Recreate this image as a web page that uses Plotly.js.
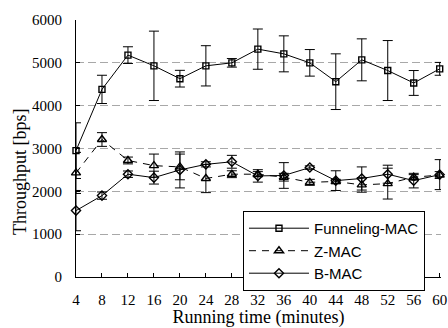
<!DOCTYPE html>
<html>
<head>
<meta charset="utf-8">
<script src="https://cdn.plot.ly/plotly-3.0.1.min.js"></script>
<style>html,body{margin:0;padding:0;background:#fff;}#chart{width:448px;height:328px;}</style>
</head>
<body>
<div id="chart"></div>
<script>
const minutes = [4, 8, 12, 16, 20, 24, 28, 32, 36, 40, 44, 48, 52, 56, 60];
const funnelingMAC = [2950, 4380, 5180, 4930, 4630, 4930, 5000, 5320, 5210, 5000, 4560, 5070, 4820, 4530, 4860];
const funnelingErr = [650, 330, 195, 810, 195, 470, 100, 470, 420, 310, 650, 490, 700, 290, 150];
const zMAC = [2430, 3210, 2720, 2600, 2570, 2300, 2400, 2400, 2330, 2210, 2230, 2150, 2180, 2330, 2380];
const zMACErr = [480, 160, 80, 270, 300, 330, 80, 60, 90, 70, 50, 170, 360, 60, 80];
const bMAC = [1550, 1900, 2400, 2320, 2500, 2630, 2690, 2360, 2370, 2555, 2250, 2300, 2400, 2250, 2390];
const bMACErr = [470, 85, 75, 150, 420, 60, 150, 145, 300, 40, 230, 270, 210, 170, 350];
const xTicks = [4, 8, 12, 16, 20, 24, 28, 32, 36, 40, 44, 48, 52, 56, 60];

function errObj(arr) {
  return {type: 'data', array: arr, visible: true, color: '#000', thickness: 1, width: 5};
}

const traces = [
  {x: minutes, y: funnelingMAC, name: 'Funneling-MAC', type: 'scatter', mode: 'lines+markers',
   line: {color: '#000', width: 1}, marker: {symbol: 'square-open', size: 6, color: '#000', line: {width: 1.4}},
   error_y: errObj(funnelingErr), cliponaxis: false},
  {x: minutes, y: zMAC, name: 'Z-MAC', type: 'scatter', mode: 'lines+markers',
   line: {color: '#000', width: 1, dash: '7px,6px'}, marker: {symbol: 'triangle-up-open', size: 8, color: '#000', line: {width: 1.4}},
   error_y: errObj(zMACErr), cliponaxis: false},
  {x: minutes, y: bMAC, name: 'B-MAC', type: 'scatter', mode: 'lines+markers',
   line: {color: '#000', width: 1}, marker: {symbol: 'diamond-open', size: 7, color: '#000', line: {width: 1.4}},
   error_y: errObj(bMACErr), cliponaxis: false}
];

const serif = 'Liberation Serif, Times New Roman, serif';
const layout = {
  width: 448, height: 328,
  margin: {l: 76, r: 7, t: 20, b: 51},
  paper_bgcolor: '#fff', plot_bgcolor: '#fff',
  showlegend: true,
  font: {family: serif, size: 15, color: '#000'},
  xaxis: {
    range: [4, 60.2], tickvals: xTicks, ticktext: xTicks.map(String),
    ticks: 'inside', ticklen: 4, tickcolor: '#000', tickwidth: 1,
    showline: true, linecolor: '#000', linewidth: 1, showgrid: false, zeroline: false,
    tickfont: {family: serif, size: 15, color: '#000'}, ticklabelstandoff: 9,
    title: {text: 'Running time (minutes)', font: {family: serif, size: 18, color: '#000'}, standoff: 3}
  },
  yaxis: {
    range: [0, 6000], dtick: 1000,
    ticks: 'inside', ticklen: 4, tickcolor: '#000', tickwidth: 1,
    showline: true, linecolor: '#000', linewidth: 1, zeroline: false,
    showgrid: true, gridcolor: '#a8a8a8', gridwidth: 1, griddash: '8px,4px',
    tickfont: {family: serif, size: 15, color: '#000'}, ticklabelstandoff: 10
  },
  annotations: [{
    text: 'Throughput [bps]', textangle: -90, xref: 'paper', yref: 'paper',
    x: -0.155, y: 0.41, xanchor: 'center', yanchor: 'middle', showarrow: false,
    font: {family: serif, size: 18, color: '#000'}
  }],
  legend: {
    x: 0.4575, y: 0.257, xanchor: 'left', yanchor: 'top',
    bgcolor: '#fff', bordercolor: '#000', borderwidth: 1,
    font: {family: 'Liberation Sans, Arial, sans-serif', size: 15, color: '#000'},
    tracegroupgap: 0, itemwidth: 60
  }
};

Plotly.newPlot('chart', traces, layout, {displayModeBar: false, staticPlot: true});
</script>
</body>
</html>
